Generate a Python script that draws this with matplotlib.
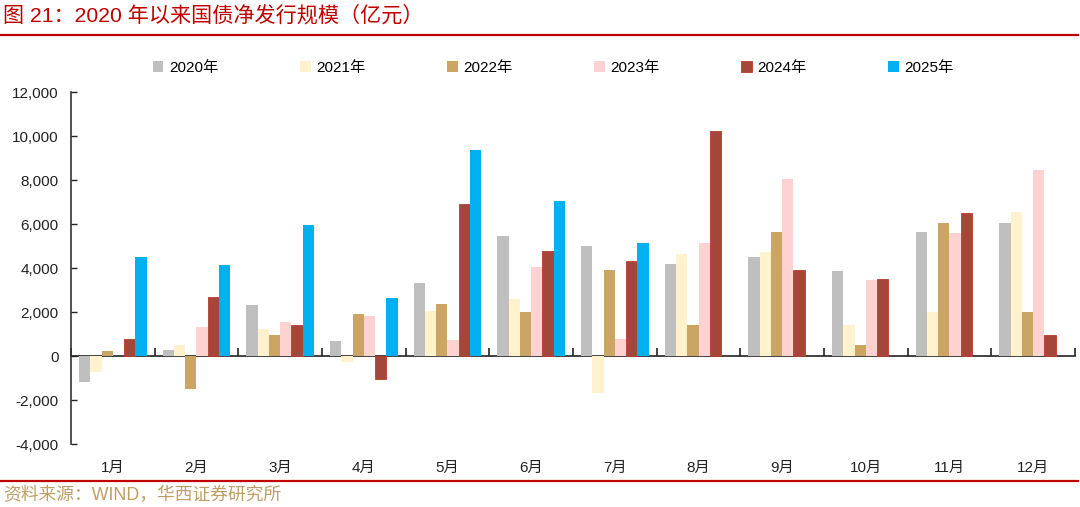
import numpy as np
import matplotlib
matplotlib.use('Agg')
import matplotlib.pyplot as plt
from matplotlib.lines import Line2D

plt.rcParams['font.family'] = ['Liberation Sans', 'Noto Sans CJK SC', 'DejaVu Sans']

months = ['1月', '2月', '3月', '4月', '5月', '6月', '7月', '8月', '9月', '10月', '11月', '12月']
years = ['2020年', '2021年', '2022年', '2023年', '2024年', '2025年']

# net issuance, 100 million yuan
v2020 = [-1170, 260, 2300, 680, 3320, 5450, 5010, 4180, 4510, 3880, 5640, 6030]
v2021 = [-710, 490, 1230, -250, 2060, 2600, -1680, 4650, 4710, 1410, 2010, 6560]
v2022 = [240, -1500, 970, 1910, 2360, 2010, 3920, 1390, 5650, 500, 6050, 1990]
v2023 = [0, 1330, 1560, 1800, 740, 4050, 790, 5150, 8050, 3450, 5590, 8450]
v2024 = [790, 2670, 1420, -1050, 6910, 4790, 4320, 10210, 3910, 3490, 6480, 940]
v2025 = [4510, 4150, 5940, 2640, 9380, 7030, 5140, np.nan, np.nan, np.nan, np.nan, np.nan]

series = [v2020, v2021, v2022, v2023, v2024, v2025]
colors = ['#BFBFBF', '#FFF2CC', '#CCA463', '#FFD2D2', '#A5463A', '#00B0F0']

fig = plt.figure(figsize=(10.8, 5.07), dpi=100)
ax = fig.add_axes([71/1080, 1-444/507, 1004/1080, 352/507])

x = np.arange(len(months))
w = 0.135
for i, vals in enumerate(series):
    ec = '#C0392B' if i == 4 else 'none'
    ax.bar(x + (i - 2.5)*w, vals, width=w, color=colors[i], edgecolor=ec,
           linewidth=0.6 if i == 4 else 0, label=years[i], zorder=2)

ax.set_xlim(-0.5, 11.5)
ax.set_ylim(-4000, 12000)
ax.set_yticks(np.arange(-4000, 12001, 2000))
ax.set_yticklabels(['{:,}'.format(v) for v in range(-4000, 12001, 2000)])
ax.tick_params(axis='y', direction='in', length=4, width=1, pad=9, labelsize=11, colors='#222222')
ax.set_xticks(x)
ax.set_xticklabels(months)
ax.tick_params(axis='x', length=0, pad=12, labelsize=11, colors='#222222')

for s in ['top', 'right', 'bottom']:
    ax.spines[s].set_visible(False)
ax.spines['left'].set_color('#333333')
ax.spines['left'].set_linewidth(1.2)

# zero line with category boundary ticks
sec = ax.secondary_xaxis(0.25)
sec.set_xticks(np.arange(-0.5, 12, 1))
sec.set_xticklabels([])
sec.tick_params(direction='in', length=6, width=1.2, color='#222222')
sec.spines['bottom'].set_color('#222222')
sec.spines['bottom'].set_linewidth(1.2)

fig.legend(loc='center', bbox_to_anchor=(553/1080, 1-68/507), ncol=6, frameon=False,
           fontsize=11, handlelength=0.7, handleheight=0.7, handletextpad=0.35,
           columnspacing=5.35)

# header / footer
fig.text(3/1080, 1-15/507, '图 21：2020 年以来国债净发行规模（亿元）', color='#C00000',
         fontsize=15.2, va='center', ha='left')
fig.add_artist(Line2D([0, 1078/1080], [1-35/507, 1-35/507], color='#C00000', lw=1.6,
                      transform=fig.transFigure))
fig.add_artist(Line2D([0, 1078/1080], [1-481/507, 1-481/507], color='#C00000', lw=1.6,
                      transform=fig.transFigure))
fig.text(3/1080, 1-495/507, '资料来源：WIND，华西证券研究所', color='#BF9E62',
         fontsize=12.8, va='center', ha='left')

fig.savefig('out.png', dpi=100)
